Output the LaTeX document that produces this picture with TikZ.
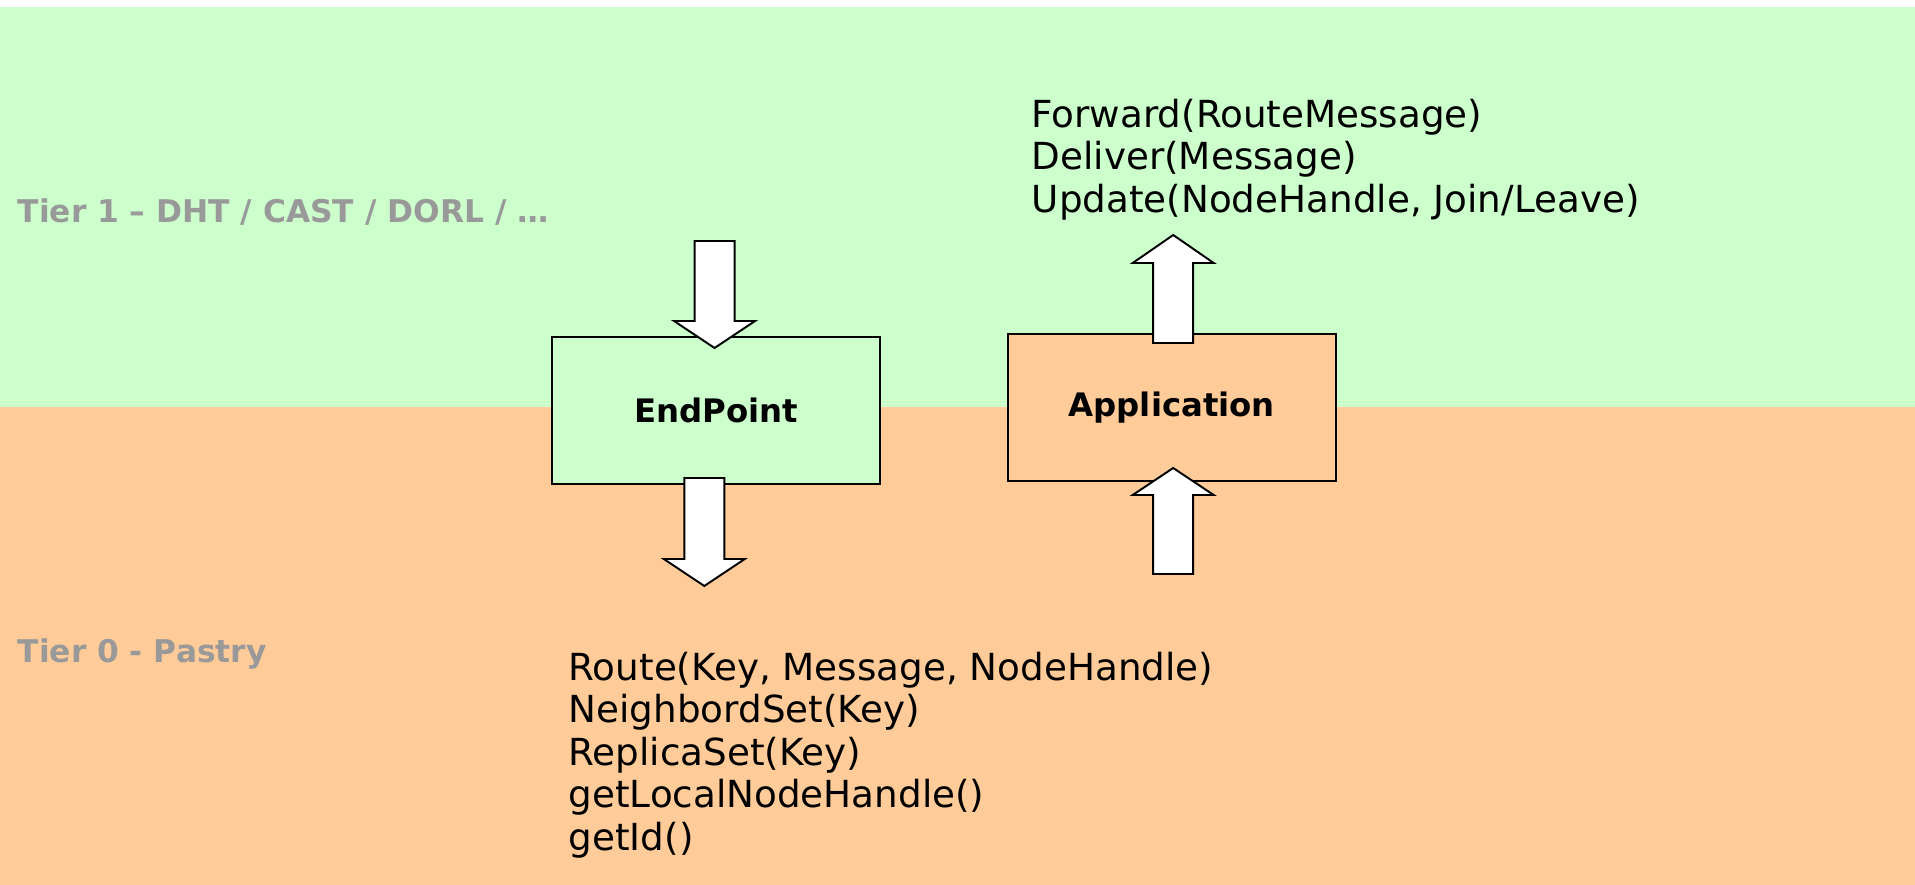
\documentclass[tikz,border=0pt]{standalone}
\usepackage{fontspec}
\setmainfont{DejaVu Sans}
\definecolor{tieronegreen}{HTML}{CCFFCC}
\definecolor{tierzeroorange}{HTML}{FFCC99}
\definecolor{tiergray}{HTML}{999999}

\begin{document}
\begin{tikzpicture}[
    x=0.01cm, y=-0.01cm,
    box/.style={draw=black, line width=0.6pt, minimum width=3.28cm, minimum height=1.47cm,
      inner sep=0pt, font=\fontsize{9.2pt}{11pt}\selectfont\bfseries},
    tierlabel/.style={anchor=base west, inner sep=0pt, text=tiergray,
      font=\fontsize{8.9pt}{10.7pt}\selectfont\bfseries},
    calls/.style={anchor=north west, inner sep=0pt, align=left,
      font=\fontsize{10.6pt}{12.1pt}\selectfont},
    blockarr/.style={draw=black, fill=white, line width=0.55pt, line join=miter},
  ]

  % background tiers
  \fill[white] (0,0) rectangle (1915,885);
  \fill[tieronegreen] (0,7) rectangle (1915,407);
  \fill[tierzeroorange] (0,407) rectangle (1915,885);
  \useasboundingbox (0,0) rectangle (1915,885);

  % tier labels
  \node[tierlabel] (tier1) at (17,222.7) {Tier 1 – DHT / CAST / DORL / …};
  \node[tierlabel] (tier0) at (17,662.7) {Tier 0 - Pastry};

  % boxes
  \node[box, fill=tieronegreen] (endpoint) at (716,410.5) {EndPoint};
  \node[box, fill=tierzeroorange] (application) at (1171.75,407.5) {Application};

  % interface calls
  \node[calls] (upcalls) at (1031,98.2) {Forward(RouteMessage)\\Deliver(Message)\\Update(NodeHandle, Join/Leave)};
  \node[calls] (downcalls) at (568,651) {Route(Key, Message, NodeHandle)\\NeighbordSet(Key)\\ReplicaSet(Key)\\getLocalNodeHandle()\\getId()};

  % block arrows: centre x / tail y / head base y / tip y
  \foreach \cx/\ytail/\ybase/\ytip in {714.6/241/321/348, 704.3/478/559/586,
      1173.2/343/263/235, 1173.2/574/495/468}
    \draw[blockarr] (\cx-20,\ytail) -- (\cx-20,\ybase) -- (\cx-40.5,\ybase) -- (\cx,\ytip)
      -- (\cx+40.5,\ybase) -- (\cx+20,\ybase) -- (\cx+20,\ytail) -- cycle;
\end{tikzpicture}
\end{document}
